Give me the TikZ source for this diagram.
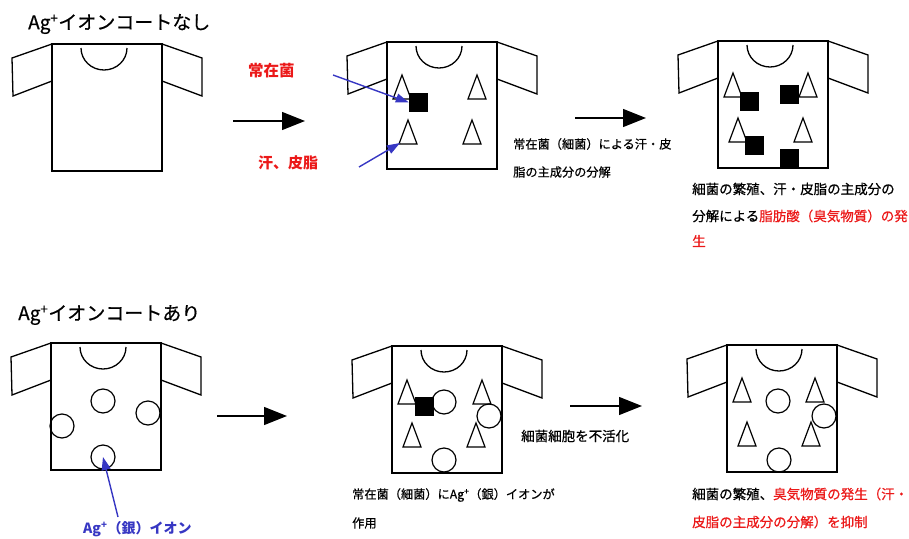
\documentclass[tikz,border=0pt]{standalone}
\usepackage{fontspec}
\setmainfont{Noto Sans CJK JP}
\newfontfamily\medfont{Noto Sans CJK JP}[FakeBold=0.6]
\usepackage{xcolor}
\usetikzlibrary{arrows.meta}
\definecolor{odorred}{RGB}{235,25,25}
\definecolor{ionblue}{RGB}{55,55,195}

\tikzset{
  shirtline/.style={line width=1.3pt, line join=miter},
  germ/.style={fill=black, minimum size=19pt, inner sep=0pt},
  ion/.style={circle, draw, line width=1.2pt, minimum size=24pt, inner sep=0pt},
  bigarrow/.style={line width=1.3pt, -{Triangle[length=23pt,width=18pt]}},
  bluearrow/.style={ionblue, line width=1.4pt, -{Triangle[length=13pt,width=9pt]}},
  txt/.style={anchor=west, inner sep=0pt, font=\medfont\fontsize{12.2}{14}\selectfont},
  rtxt/.style={anchor=west, inner sep=0pt, font=\medfont\fontsize{13.5}{15}\selectfont},
  head/.style={anchor=west, inner sep=0pt, font=\medfont\fontsize{19}{22}\selectfont}
}

% body (top-left corner #1,#2), sleeves and collar
\newcommand{\tshirt}[2]{%
\draw[shirtline] (#1,#2) rectangle ({#1+110},{#2+127});
\draw[shirtline] (#1,#2) -- ({#1-40},{#2+14}) -- ({#1-39},{#2+52}) -- (#1,{#2+37});
\draw[shirtline] ({#1+110},#2) -- ({#1+150},{#2+14}) -- ({#1+150},{#2+52}) -- ({#1+110},{#2+37});
\draw[shirtline] ({#1+29},{#2+4}) arc[start angle=180, end angle=0, x radius=23, y radius=22];
}
% sweat / sebum component, apex at #1,#2
\newcommand{\sebum}[2]{%
\draw[line width=1.2pt] (#1,#2) -- ++(-9,24) -- ++(18,0) -- cycle;
}

\begin{document}
\begin{tikzpicture}[x=1pt,y=-1pt]
\useasboundingbox (0,0) rectangle (909,538);

%% without coating
\node[head] (hdA) at (28,24) {Ag\textsuperscript{+}イオンコートなし};
\tshirt{52}{44}
\tshirt{387}{42}
\tshirt{718}{41}

\node[anchor=west, inner sep=0pt, odorred, font=\fontsize{15.5}{17}\selectfont\bfseries] (resid) at (248,71) {常在菌};
\node[anchor=west, inner sep=0pt, odorred, font=\fontsize{15}{17}\selectfont\bfseries] (sweat) at (258,163) {汗、皮脂};

\coordinate (a1) at (233,121);
\coordinate (a2) at (305,121);
\draw[bigarrow] (a1) -- (a2);

\sebum{402}{75}
\sebum{477}{75}
\sebum{408}{120}
\sebum{472}{120}
\node[germ] (g1) at (418.5,102.5) {};

\coordinate (b1) at (333,75);
\draw[bluearrow] (b1) -- (g1.west);
\coordinate (b2) at (359,167);
\coordinate (s1) at (400,143);
\draw[bluearrow] (b2) -- (s1);

\coordinate (a3) at (575,118);
\coordinate (a4) at (646,118);
\draw[bigarrow] (a3) -- (a4);
\node[txt] (decA) at (513,144) {常在菌（細菌）による汗・皮};
\node[txt] (decB) at (513,172) {脂の主成分の分解};

\sebum{733}{73}
\sebum{808}{73}
\sebum{738}{118}
\sebum{803}{118}
\node[germ] (g2) at (749,101) {};
\node[germ] (g3) at (789,94.5) {};
\node[germ] (g4) at (754.5,145) {};
\node[germ] (g5) at (789,158) {};

\node[rtxt] (resA) at (692,189) {細菌の繁殖、汗・皮脂の主成分の};
\node[rtxt] (resB) at (692,216) {分解による\textcolor{odorred}{脂肪酸（臭気物質）の発}};
\node[rtxt, odorred] (resC) at (692,241) {生};

%% with coating
\node[head] (hdB) at (18,315) {Ag\textsuperscript{+}イオンコートあり};
\tshirt{51}{343}
\tshirt{392}{346}
\tshirt{727}{345}

\node[ion] (i1) at (103,401) {};
\node[ion] (i2) at (62,426) {};
\node[ion] (i3) at (148,413) {};
\node[ion] (i4) at (103,457) {};
\node[anchor=west, inner sep=0pt, ionblue, font=\fontsize{14}{16}\selectfont\bfseries] (agion) at (83,529) {Ag\textsuperscript{+}（銀）イオン};
\coordinate (b3) at (118,517);
\draw[bluearrow] (b3) -- (i4.center);

\coordinate (a5) at (217,416);
\coordinate (a6) at (287,416);
\draw[bigarrow] (a5) -- (a6);

\sebum{407}{380}
\sebum{482}{380}
\sebum{412}{423}
\sebum{476}{423}
\node[germ] (g6) at (424,406.5) {};
\node[ion] (i5) at (444,402) {};
\node[ion] (i6) at (489,416) {};
\node[ion] (i7) at (444,460) {};
\node[txt] (actA) at (352,495) {常在菌（細菌）にAg\textsuperscript{+}（銀）イオンが};
\node[txt] (actB) at (352,523) {作用};

\coordinate (a7) at (570,406);
\coordinate (a8) at (642,406);
\draw[bigarrow] (a7) -- (a8);
\node[rtxt] (inact) at (521,436) {細菌細胞を不活化};

\sebum{742}{378}
\sebum{815}{378}
\sebum{747}{422}
\sebum{811}{422}
\node[ion] (i8) at (778,401) {};
\node[ion] (i9) at (824,416) {};
\node[ion] (i10) at (779,460) {};

\node[rtxt] (supA) at (692,494) {細菌の繁殖、\textcolor{odorred}{臭気物質の発生（汗・}};
\node[rtxt, odorred] (supB) at (692,522) {皮脂の主成分の分解）を抑制};
\end{tikzpicture}
\end{document}
